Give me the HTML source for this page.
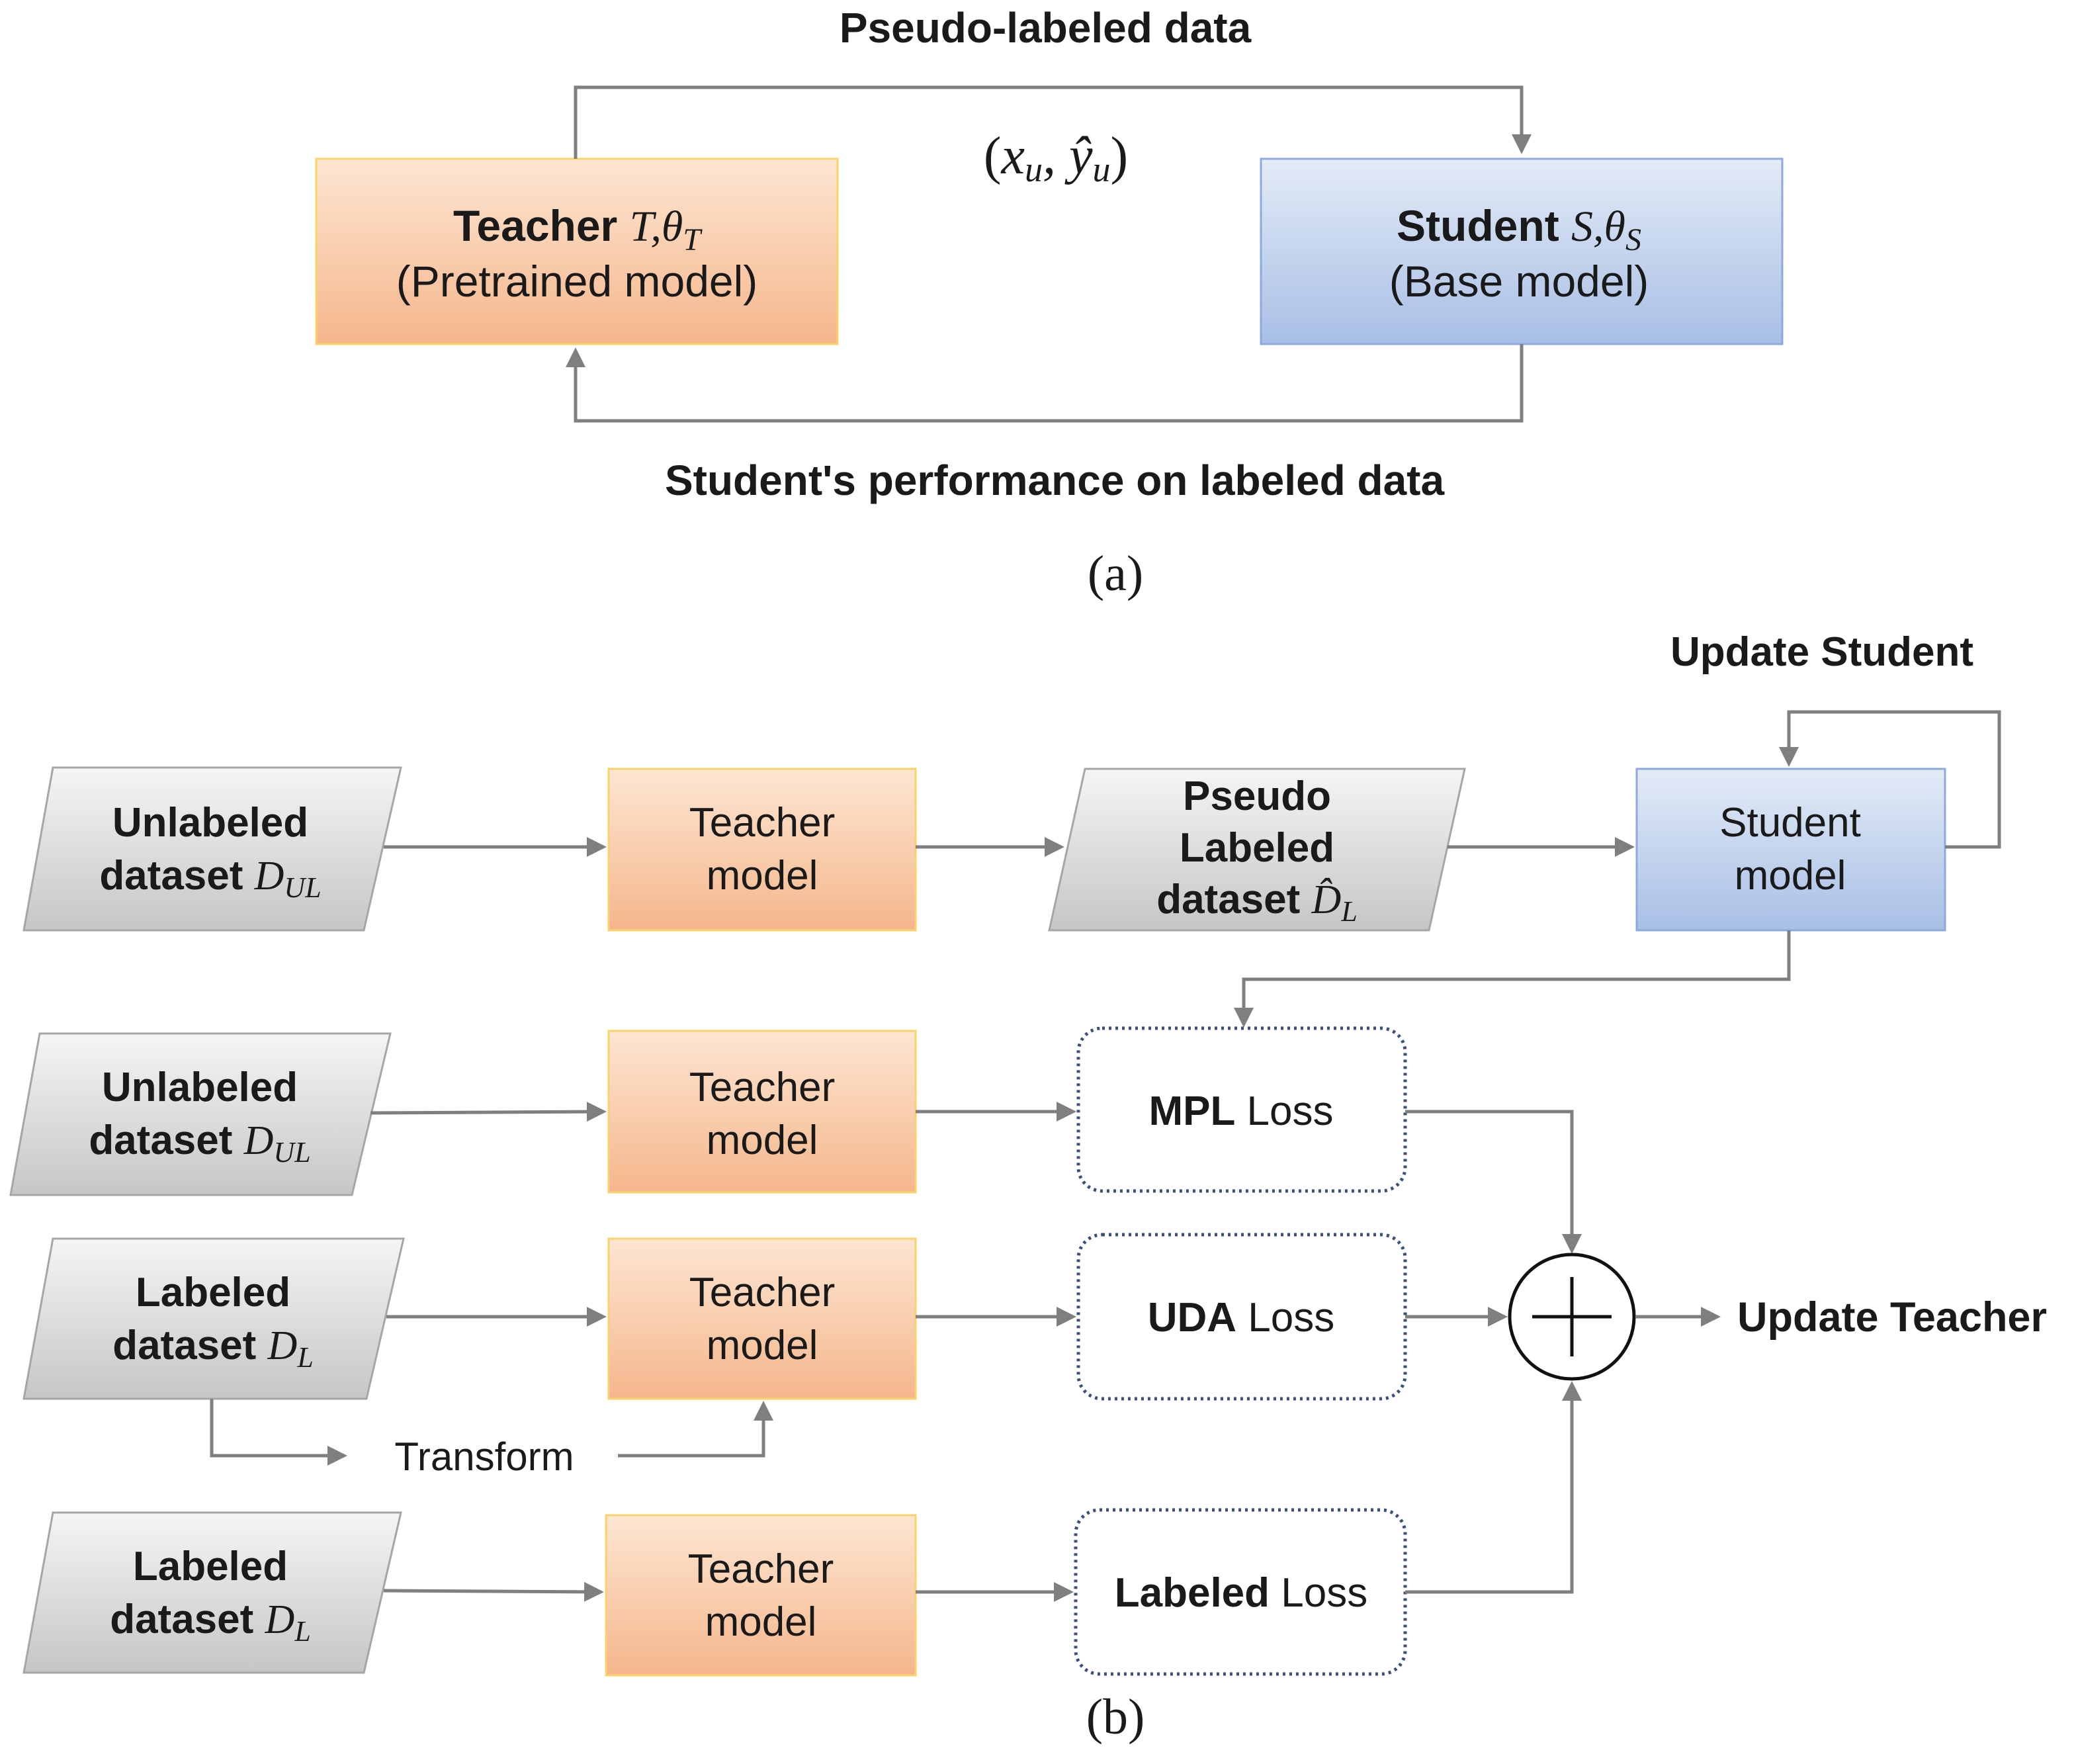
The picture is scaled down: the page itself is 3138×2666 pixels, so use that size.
<!DOCTYPE html>
<html><head><meta charset="utf-8"><style>
html,body{margin:0;padding:0;background:#fff;}
svg{display:block}
.b{font-family:"Liberation Sans",Arial,sans-serif;font-weight:bold;fill:#1a1a1a}
.n{font-family:"Liberation Sans",Arial,sans-serif;fill:#1a1a1a}
.m{font-family:"Liberation Serif",serif;font-style:italic;font-weight:normal}
.s{font-family:"Liberation Serif",serif;fill:#1a1a1a}
.l{stroke:#7f7f7f;stroke-width:5;fill:none}
</style></head><body>
<svg width="3138" height="2666" viewBox="0 0 3138 2666" xmlns="http://www.w3.org/2000/svg">
<defs>
<linearGradient id="og" x1="0" y1="0" x2="0" y2="1"><stop offset="0" stop-color="#fde6d2"/><stop offset="1" stop-color="#f5b68c"/></linearGradient>
<linearGradient id="bg" x1="0" y1="0" x2="0" y2="1"><stop offset="0" stop-color="#e3ebf7"/><stop offset="1" stop-color="#a8bfe5"/></linearGradient>
<linearGradient id="gg" x1="0" y1="0" x2="0" y2="1"><stop offset="0" stop-color="#f5f5f5"/><stop offset="1" stop-color="#c6c6c6"/></linearGradient>
<marker id="a" markerWidth="6" markerHeight="6" refX="5" refY="3" orient="auto" markerUnits="strokeWidth"><path d="M0,0 L6,3 L0,6 z" fill="#7f7f7f"/></marker>
</defs>

<!-- (a) -->
<text x="1580" y="64" text-anchor="middle" class="b" font-size="64">Pseudo-labeled data</text>
<rect x="478" y="240" width="788" height="280" fill="url(#og)" stroke="#f9d36a" stroke-width="3"/>
<rect x="1906" y="240" width="788" height="280" fill="url(#bg)" stroke="#8eaadb" stroke-width="3"/>
<text x="872" y="364" text-anchor="middle" class="b" font-size="66">Teacher <tspan class="m">T,θ<tspan font-size="48" dy="14">T</tspan></tspan></text>
<text x="872" y="448" text-anchor="middle" class="n" font-size="66">(Pretrained model)</text>
<text x="2296" y="364" text-anchor="middle" class="b" font-size="66">Student <tspan class="m">S,θ<tspan font-size="48" dy="14">S</tspan></tspan></text>
<text x="2296" y="448" text-anchor="middle" class="n" font-size="66">(Base model)</text>
<polyline class="l" points="870,240 870,132 2300,132 2300,228" marker-end="url(#a)"/>
<polyline class="l" points="2300,520 2300,636 870,636 870,530" marker-end="url(#a)"/>
<text x="1596" y="262" text-anchor="middle" class="s" font-size="80">(<tspan font-style="italic">x<tspan font-size="54" dy="12">u</tspan><tspan dy="-12">, ŷ</tspan><tspan font-size="54" dy="12">u</tspan></tspan><tspan dy="-12">)</tspan></text>
<text x="1594" y="748" text-anchor="middle" class="b" font-size="64">Student's performance on labeled data</text>
<text x="1686" y="892" text-anchor="middle" class="s" font-size="76">(a)</text>

<!-- (b) -->
<text x="2754" y="1006" text-anchor="middle" class="b" font-size="62">Update Student</text>

<!-- row1 -->
<polygon points="80,1160 606,1160 550,1406 36,1406" fill="url(#gg)" stroke="#a6a6a6" stroke-width="3"/>
<text x="318" y="1264" text-anchor="middle" class="b" font-size="62">Unlabeled</text>
<text x="318" y="1344" text-anchor="middle" class="b" font-size="62">dataset <tspan class="m">D<tspan font-size="44" dy="12">UL</tspan></tspan></text>
<rect x="920" y="1162" width="464" height="244" fill="url(#og)" stroke="#f9d36a" stroke-width="3"/>
<text x="1152" y="1264" text-anchor="middle" class="n" font-size="62">Teacher</text>
<text x="1152" y="1344" text-anchor="middle" class="n" font-size="62">model</text>
<polygon points="1640,1162 2214,1162 2160,1406 1586,1406" fill="url(#gg)" stroke="#a6a6a6" stroke-width="3"/>
<text x="1900" y="1224" text-anchor="middle" class="b" font-size="62">Pseudo</text>
<text x="1900" y="1302" text-anchor="middle" class="b" font-size="62">Labeled</text>
<text x="1900" y="1380" text-anchor="middle" class="b" font-size="62">dataset <tspan class="m">D̂<tspan font-size="44" dy="12">L</tspan></tspan></text>
<rect x="2474" y="1162" width="466" height="244" fill="url(#bg)" stroke="#8eaadb" stroke-width="3"/>
<text x="2706" y="1264" text-anchor="middle" class="n" font-size="62">Student</text>
<text x="2706" y="1344" text-anchor="middle" class="n" font-size="62">model</text>
<line class="l" x1="580" y1="1280" x2="912" y2="1280" marker-end="url(#a)"/>
<line class="l" x1="1384" y1="1280" x2="1604" y2="1280" marker-end="url(#a)"/>
<line class="l" x1="2188" y1="1280" x2="2466" y2="1280" marker-end="url(#a)"/>
<polyline class="l" points="2940,1280 3022,1280 3022,1076 2704,1076 2704,1154" marker-end="url(#a)"/>
<polyline class="l" points="2704,1406 2704,1480 1880,1480 1880,1548" marker-end="url(#a)"/>

<!-- row2 -->
<polygon points="60,1562 590,1562 532,1806 16,1806" fill="url(#gg)" stroke="#a6a6a6" stroke-width="3"/>
<text x="302" y="1664" text-anchor="middle" class="b" font-size="62">Unlabeled</text>
<text x="302" y="1744" text-anchor="middle" class="b" font-size="62">dataset <tspan class="m">D<tspan font-size="44" dy="12">UL</tspan></tspan></text>
<rect x="920" y="1558" width="464" height="244" fill="url(#og)" stroke="#f9d36a" stroke-width="3"/>
<text x="1152" y="1664" text-anchor="middle" class="n" font-size="62">Teacher</text>
<text x="1152" y="1744" text-anchor="middle" class="n" font-size="62">model</text>
<rect x="1630" y="1554" width="494" height="246" rx="36" fill="#fff" stroke="#3b4f7a" stroke-width="5" stroke-dasharray="4,6"/>
<text x="1876" y="1700" text-anchor="middle" class="n" font-size="62"><tspan font-weight="bold">MPL</tspan> Loss</text>
<line class="l" x1="560" y1="1682" x2="912" y2="1680" marker-end="url(#a)"/>
<line class="l" x1="1384" y1="1680" x2="1622" y2="1680" marker-end="url(#a)"/>
<polyline class="l" points="2124,1680 2376,1680 2376,1890" marker-end="url(#a)"/>

<!-- row3 -->
<polygon points="80,1872 610,1872 554,2114 36,2114" fill="url(#gg)" stroke="#a6a6a6" stroke-width="3"/>
<text x="322" y="1974" text-anchor="middle" class="b" font-size="62">Labeled</text>
<text x="322" y="2054" text-anchor="middle" class="b" font-size="62">dataset <tspan class="m">D<tspan font-size="44" dy="12">L</tspan></tspan></text>
<rect x="920" y="1872" width="464" height="242" fill="url(#og)" stroke="#f9d36a" stroke-width="3"/>
<text x="1152" y="1974" text-anchor="middle" class="n" font-size="62">Teacher</text>
<text x="1152" y="2054" text-anchor="middle" class="n" font-size="62">model</text>
<rect x="1630" y="1866" width="494" height="248" rx="36" fill="#fff" stroke="#3b4f7a" stroke-width="5" stroke-dasharray="4,6"/>
<text x="1876" y="2012" text-anchor="middle" class="n" font-size="62"><tspan font-weight="bold">UDA</tspan> Loss</text>
<line class="l" x1="584" y1="1990" x2="912" y2="1990" marker-end="url(#a)"/>
<line class="l" x1="1384" y1="1990" x2="1622" y2="1990" marker-end="url(#a)"/>
<line class="l" x1="2124" y1="1990" x2="2274" y2="1990" marker-end="url(#a)"/>
<circle cx="2376" cy="1990" r="94" fill="#fff" stroke="#111" stroke-width="5"/>
<line x1="2316" y1="1990" x2="2436" y2="1990" stroke="#111" stroke-width="5"/>
<line x1="2376" y1="1930" x2="2376" y2="2050" stroke="#111" stroke-width="5"/>
<line class="l" x1="2472" y1="1990" x2="2596" y2="1990" marker-end="url(#a)"/>
<text x="2626" y="2012" class="b" font-size="63">Update Teacher</text>
<polyline class="l" points="320,2114 320,2200 520,2200" marker-end="url(#a)"/>
<text x="732" y="2222" text-anchor="middle" class="n" font-size="60">Transform</text>
<polyline class="l" points="934,2200 1154,2200 1154,2122" marker-end="url(#a)"/>

<!-- row4 -->
<polygon points="80,2286 606,2286 550,2528 36,2528" fill="url(#gg)" stroke="#a6a6a6" stroke-width="3"/>
<text x="318" y="2388" text-anchor="middle" class="b" font-size="62">Labeled</text>
<text x="318" y="2468" text-anchor="middle" class="b" font-size="62">dataset <tspan class="m">D<tspan font-size="44" dy="12">L</tspan></tspan></text>
<rect x="916" y="2290" width="468" height="242" fill="url(#og)" stroke="#f9d36a" stroke-width="3"/>
<text x="1150" y="2392" text-anchor="middle" class="n" font-size="62">Teacher</text>
<text x="1150" y="2472" text-anchor="middle" class="n" font-size="62">model</text>
<rect x="1626" y="2282" width="498" height="248" rx="36" fill="#fff" stroke="#3b4f7a" stroke-width="5" stroke-dasharray="4,6"/>
<text x="1876" y="2428" text-anchor="middle" class="n" font-size="62"><tspan font-weight="bold">Labeled</tspan> Loss</text>
<line class="l" x1="580" y1="2404" x2="908" y2="2406" marker-end="url(#a)"/>
<line class="l" x1="1384" y1="2406" x2="1618" y2="2406" marker-end="url(#a)"/>
<polyline class="l" points="2124,2406 2376,2406 2376,2092" marker-end="url(#a)"/>

<text x="1686" y="2620" text-anchor="middle" class="s" font-size="76">(b)</text>
</svg>
</body></html>
